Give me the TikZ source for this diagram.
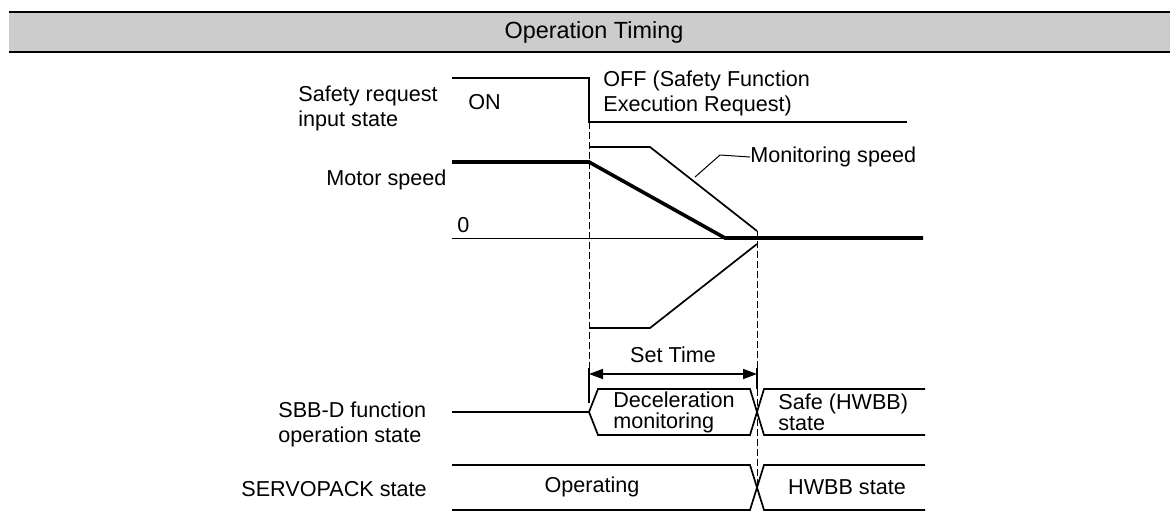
\documentclass[tikz,border=0pt]{standalone}
\usepackage{fontspec}
\setmainfont{Liberation Sans}
\usetikzlibrary{arrows.meta}

\begin{document}
\begin{tikzpicture}[
        x=0.5pt, y=-0.5pt,
        >={Triangle[length=7pt,width=5pt]},
        label/.style={inner sep=0pt, align=left, font=\fontsize{10.8}{12.5}\selectfont},
        statetext/.style={inner sep=0pt, align=left, font=\fontsize{10.8}{10.5}\selectfont},
        signal/.style={line width=0.85pt},
        speed/.style={line width=1.8pt},
        thinline/.style={line width=0.5pt},
        guide/.style={dashed, line width=0.5pt, dash pattern=on 3.5pt off 1.5pt}
    ]
        \useasboundingbox (0,0) rectangle (1170,525);
        % header
        \fill[black!20] (9,12) rectangle (1170,52);
        \draw[line width=1.2pt] (9,12) -- (1170,12) (9,52) -- (1170,52);
        \node[font=\fontsize{11.7}{13}\selectfont] (title) at (594,32) {Operation Timing};

        % time marks
        \coordinate (t0) at (589,0);
        \coordinate (t1) at (757,0);

        % row labels
        \node[label, anchor=west] (reqlabel) at (298,108) {Safety request\\input state};
        \node[label, anchor=west] (speedlabel) at (326,180) {Motor speed};
        \node[label, anchor=west] (sbblabel) at (278,424) {SBB-D function\\operation state};
        \node[label, anchor=west] (servolabel) at (241,489) {SERVOPACK state};

        % safety request input
        \draw[signal] (452,78) -- (589,78) -- (589,122) -- (907,122);
        \node[label, anchor=west] (on) at (468,102) {ON};
        \node[label, anchor=west] (off) at (603,93) {OFF (Safety Function\\Execution Request)};

        % motor speed and monitoring speed
        \draw[thinline] (452,238) -- (923,238);
        \node[label, anchor=west] (zero) at (457,225) {0};
        \draw[speed] (452,162) -- (589,162) -- (725,238) -- (923,238);
        \draw[signal] (589,147) -- (650,147) -- (757,231);
        \draw[signal] (589,328) -- (650,328) -- (757,244);
        \node[label, anchor=west] (monitor) at (750,157) {Monitoring speed};
        \draw[thinline] (695,177) -- (720,155) -- (monitor.west);

        % guides and set time
        \draw[guide] (589,122) -- (589,368);
        \draw[guide] (757,231) -- (757,368);
        \draw[guide] (757,389) -- (757,487);
        \draw[signal] (589,368) -- (589,403);
        \draw[signal] (757,368) -- (757,389);
        \draw[signal, <->] (589,374) -- (757,374);
        \node[label] (settime) at (673,355) {Set Time};

        % SBB-D function operation state
        \draw[signal] (452,412) -- (589,412) -- (598,389) -- (750,389) -- (764,435) -- (925,435);
        \draw[signal] (589,412) -- (598,435) -- (750,435) -- (764,389) -- (925,389);
        \node[statetext] (decel) at (674,412) {Deceleration\\monitoring};
        \node[statetext, anchor=west] (safe) at (778,412) {Safe (HWBB)\\state};

        % SERVOPACK state
        \draw[signal] (452,465) -- (750,465) -- (764,510) -- (925,510);
        \draw[signal] (452,510) -- (750,510) -- (764,465) -- (925,465);
        \node[label] (operating) at (592,487) {Operating};
        \node[label] (hwbb) at (847,487) {HWBB state};
    \end{tikzpicture}
\end{document}
